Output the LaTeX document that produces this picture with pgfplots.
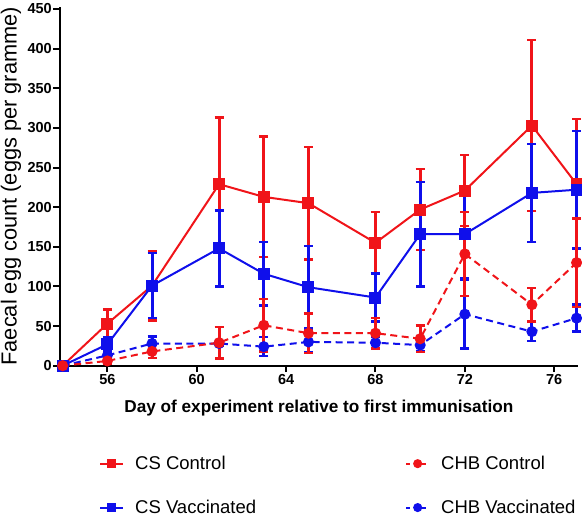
\documentclass[border=0pt]{standalone}
\usepackage{fontspec}
\setmainfont{Liberation Sans}
\usepackage{pgfplots}
\usepackage{pgfplotstable}
\pgfplotsset{compat=1.18}
\definecolor{gred}{RGB}{240,20,25}
\definecolor{gblue}{RGB}{15,15,235}

\pgfplotstableread{
x y e
54 0 0
56 53 18
58 101 44
61 229 84
63 213 76
65 205 71
68 155 39
70 197 51
72 221 45
75 303 108
77 229 82
}\cscontrol
\pgfplotstableread{
x y e
54 0 0
56 27 9
58 101 41
61 148 48
63 116 40
65 99 52
68 86 30
70 166 66
72 166 56
75 218 62
77 222 74
}\csvacc
\pgfplotstableread{
x y e
54 0 0
56 6 3
58 18 8
61 29 20
63 51 33
65 41 25
68 41 19
70 34 17
72 141 53
75 77 21
77 130 56
}\chbcontrol
\pgfplotstableread{
x y e
54 0 0
56 13 4
58 28 9
61 28 3
63 24 12
65 30 13
68 29 8
70 26 8
72 65 43
75 43 12
77 60 17
}\chbvacc

\begin{document}
\begin{tikzpicture}
\path[use as bounding box] (-60pt,-148.3pt) rectangle (522pt,365.7pt);
\begin{axis}[
  at={(0pt,0pt)}, anchor=south west, scale only axis,
  width=517.7pt, height=359pt,
  xmin=53.88, xmax=77.05, ymin=0, ymax=452.9,
  clip=false,
  axis lines=left, axis line style={-, line width=2pt, black},
  xtick={56,60,64,68,72,76}, ytick={0,50,...,450},
  minor tick num=0,
  tick align=outside, major tick length=6.5pt,
  tick style={line width=2pt, black},
  /pgf/number format/assume math mode=true,
  tick label style={font=\bfseries\fontsize{14.5}{14.5}\selectfont},
  yticklabel style={inner sep=1.5pt},
  xticklabel style={inner sep=2pt},
  xlabel={\bfseries Day of experiment relative to first immunisation},
  xlabel style={font=\fontsize{17.2}{17.2}\selectfont, at={(axis description cs:0.5,0)}, anchor=base, yshift=-47pt},
  ylabel={Faecal egg count (eggs per gramme)},
  ylabel style={font=\fontsize{21.8}{21.8}\selectfont, at={(axis description cs:-0.0946,0.5)}, anchor=center},
  legend columns=2,
  legend cell align=left,
  legend image code/.code={\draw[mark repeat=2, mark phase=2, #1] plot coordinates {(0pt,0pt) (11.5pt,0pt) (23pt,0pt)};},
  legend style={at={(axis description cs:0.0695,-0.2404)}, anchor=north west, draw=none, fill=none,
    font=\fontsize{18.5}{18.5}\selectfont,
    /tikz/every odd column/.style={column sep=9pt},
    /tikz/every even column/.style={column sep=147pt},
    /tikz/row sep=25pt},
  every axis plot/.append style={line width=2pt},
]
\addplot[gred, mark=square*, mark size=5pt, mark options={solid}, forget plot,
  error bars/.cd, y dir=both, y explicit,
  error bar style={line width=3pt, solid},
  error mark options={rotate=90, mark size=4.5pt, line width=2.5pt, solid}]
  table[x=x, y=y, y error=e] {\cscontrol};
\addplot[gblue, mark=square*, mark size=5pt, mark options={solid}, forget plot,
  error bars/.cd, y dir=both, y explicit,
  error bar style={line width=3pt, solid},
  error mark options={rotate=90, mark size=4.5pt, line width=2.5pt, solid}]
  table[x=x, y=y, y error=e] {\csvacc};
\addplot[gblue, dash pattern=on 7pt off 4.5pt, mark=*, mark size=4.5pt, mark options={solid}, forget plot,
  error bars/.cd, y dir=both, y explicit,
  error bar style={line width=3pt, solid},
  error mark options={rotate=90, mark size=4.5pt, line width=2.5pt, solid}]
  table[x=x, y=y, y error=e] {\chbvacc};
\addplot[gred, dash pattern=on 7pt off 4.5pt, mark=*, mark size=4.5pt, mark options={solid}, forget plot,
  error bars/.cd, y dir=both, y explicit,
  error bar style={line width=3pt, solid},
  error mark options={rotate=90, mark size=4.5pt, line width=2.5pt, solid}]
  table[x=x, y=y, y error=e] {\chbcontrol};
\addlegendimage{gred, line width=2pt, mark=square*, mark size=3.5pt, mark options={solid}}
\addlegendentry{CS Control}
\addlegendimage{gred, line width=2pt, dash pattern=on 4pt off 4pt, mark=*, mark size=3.5pt, mark options={solid}}
\addlegendentry{CHB Control}
\addlegendimage{gblue, line width=2pt, mark=square*, mark size=3.5pt, mark options={solid}}
\addlegendentry{CS Vaccinated}
\addlegendimage{gblue, line width=2pt, dash pattern=on 4pt off 4pt, mark=*, mark size=3.5pt, mark options={solid}}
\addlegendentry{CHB Vaccinated}
\end{axis}
\end{tikzpicture}
\end{document}
